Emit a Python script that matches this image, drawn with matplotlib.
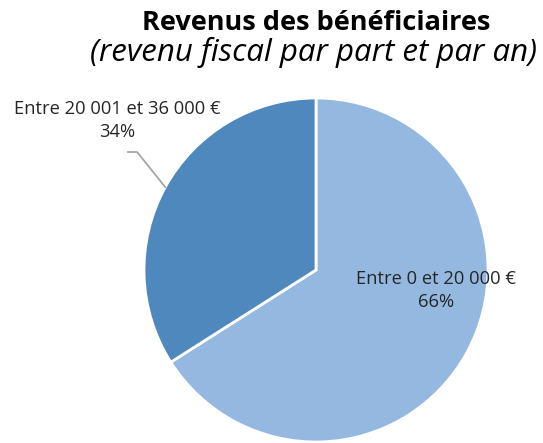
import matplotlib
matplotlib.use('Agg')
import matplotlib.pyplot as plt
import numpy as np

categories = ["Entre 0 et 20 000 €", "Entre 20 001 et 36 000 €"]
shares = [66, 34]
colors = ["#95B8E0", "#4F88BD"]

plt.rcParams['font.family'] = ['Open Sans', 'DejaVu Sans']

fig = plt.figure(figsize=(5.43, 4.43), dpi=100)
# pie centre ~ (316, 270) px, radius ~ 172 px
r_px = 172
ax = fig.add_axes([(316 - r_px) / 543, (443 - 270 - r_px) / 443,
                   2 * r_px / 543, 2 * r_px / 443])
wedges, _ = ax.pie(shares, colors=colors, startangle=90, counterclock=False,
                   radius=1, wedgeprops=dict(edgecolor='white', linewidth=2))
ax.set_xlim(-1, 1)
ax.set_ylim(-1, 1)
ax.set_aspect('equal')
ax.axis('off')

labels = [f"{c}\n{s}%" for c, s in zip(categories, shares)]

# big slice label inside
ax.text(0.70, -0.12, labels[0], ha='center', va='center', fontsize=13.2,
        color='#262626', linespacing=1.35)

# small slice label outside with leader line
w = wedges[1]
mid = np.deg2rad((w.theta1 + w.theta2) / 2)
px, py = np.cos(mid), np.sin(mid)
ax.plot([px, -1.04, -1.093], [py, 0.686, 0.686], color='#A6A6A6', lw=1.3,
        clip_on=False)
ax.text(-1.157, 0.87, labels[1], ha='center', va='center', fontsize=13.2,
        color='#262626', linespacing=1.35, clip_on=False)

fig.text(316 / 543, 1 - 23 / 443, "Revenus des bénéficiaires", ha='center',
         va='center', fontsize=19.5, fontweight='bold')
fig.text(313 / 543, 1 - 52 / 443, "(revenu fiscal par part et par an)",
         ha='center', va='center', fontsize=22.5, style='italic')

fig.savefig('out.png', dpi=100)
